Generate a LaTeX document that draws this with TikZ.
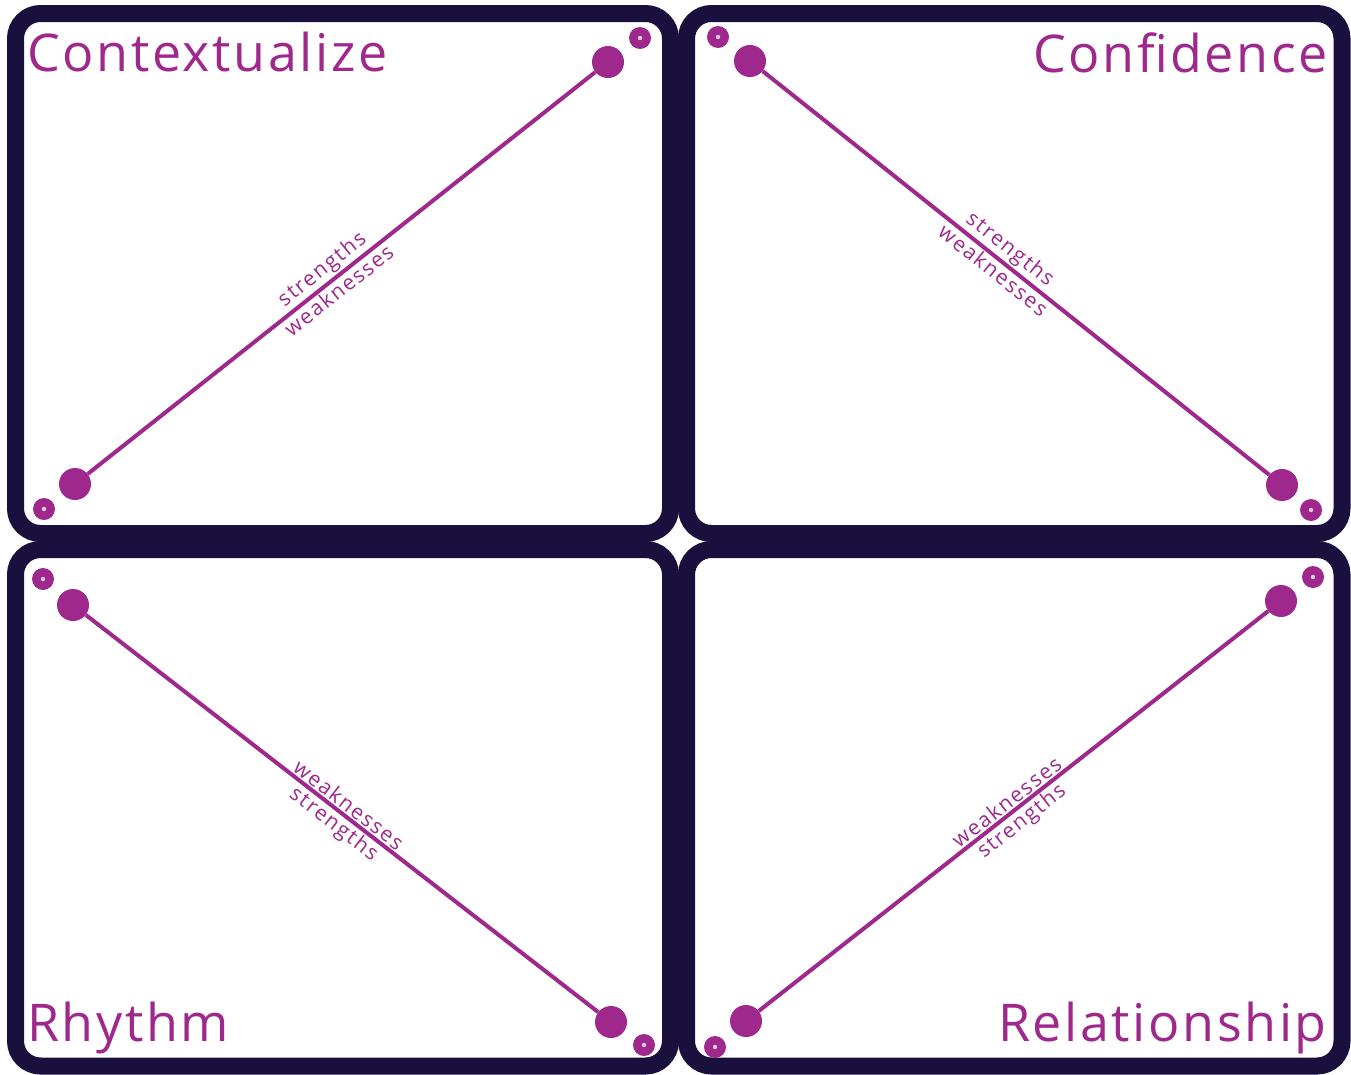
\documentclass[tikz,border=0pt]{standalone}
\usepackage{fontspec}
\setmainfont{Open Sans}
\newfontfamily\headfont[LetterSpace=5]{Open Sans}
\newfontfamily\tagfont[LetterSpace=8]{Open Sans}
\usepackage{xcolor}
\definecolor{frame}{RGB}{26,16,62}
\definecolor{plum}{RGB}{158,40,140}

\begin{document}
\begin{tikzpicture}[
  x=1pt,y=-1pt,  panel/.style={draw=frame,line width=17pt,rounded corners=25pt},  bigdot/.style={circle,fill=plum,inner sep=0pt,minimum size=32pt},  smalldot/.style={circle,fill=plum,inner sep=0pt,minimum size=22pt,path picture={\fill[white!75!plum] (path picture bounding box.center) circle (2.2pt);}},  link/.style={draw=plum,line width=4pt},  title/.style={text=plum,font=\headfont\fontsize{52}{60}\selectfont,inner sep=0pt},  tag/.style={text=plum,font=\tagfont\fontsize{21}{23}\selectfont,sloped,inner sep=1.5pt}
]
  \useasboundingbox (0,0) rectangle (1351,1074);
  \draw[panel] (15.5,13.5) rectangle (670.5,533.5);
  \draw[panel] (686.5,13.5) rectangle (1342,533.5);
  \draw[panel] (15.5,549.5) rectangle (670.5,1066);
  \draw[panel] (686.5,549.5) rectangle (1342,1066);
  \node[title,anchor=base west] (ctx) at (27,71) {Contextualize};
  \node[title,anchor=base east] (conf) at (1328,72) {Confidence};
  \node[title,anchor=base west] (rhy) at (27,1041) {Rhythm};
  \node[title,anchor=base east] (rel) at (1327,1041) {Relationship};
  \node[bigdot] (a1) at (75,484) {};
  \node[bigdot] (a2) at (608,62) {};
  \node[smalldot] (a3) at (44,509) {};
  \node[smalldot] (a4) at (640,38) {};
  \node[bigdot] (b1) at (750,61) {};
  \node[bigdot] (b2) at (1282,485) {};
  \node[smalldot] (b3) at (718,37) {};
  \node[smalldot] (b4) at (1311,510) {};
  \node[bigdot] (c1) at (73,605) {};
  \node[bigdot] (c2) at (611,1022) {};
  \node[smalldot] (c3) at (43,579) {};
  \node[smalldot] (c4) at (644,1045) {};
  \node[bigdot] (d1) at (746,1021) {};
  \node[bigdot] (d2) at (1281,601) {};
  \node[smalldot] (d3) at (715,1047) {};
  \node[smalldot] (d4) at (1313,577) {};
  \draw[link] (a1) -- (a2)
    node[tag,pos=.48,above] {strengths}
    node[tag,pos=.48,below] {weaknesses};
  \draw[link] (b1) -- (b2)
    node[tag,pos=.47,above] {strengths}
    node[tag,pos=.47,below] {weaknesses};
  \draw[link] (c1) -- (c2)
    node[tag,pos=.5,above] {weaknesses}
    node[tag,pos=.5,below] {strengths};
  \draw[link] (d1) -- (d2)
    node[tag,pos=.5,above] {weaknesses}
    node[tag,pos=.5,below] {strengths};
\end{tikzpicture}
\end{document}
